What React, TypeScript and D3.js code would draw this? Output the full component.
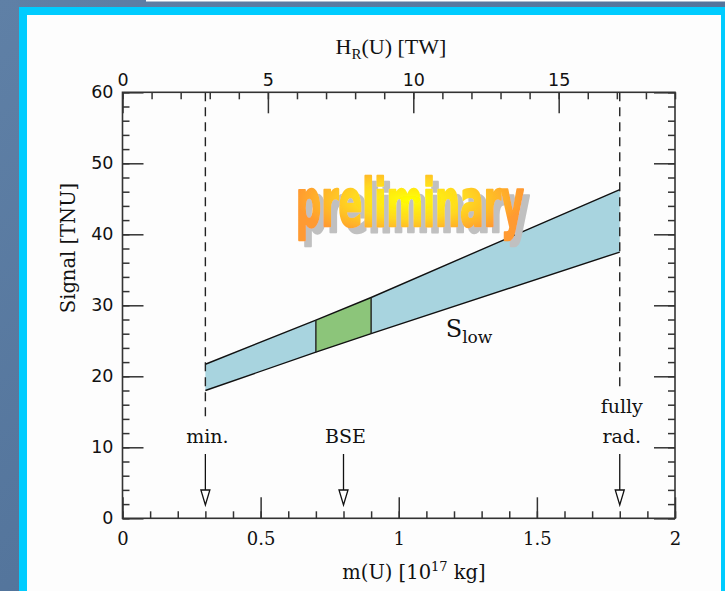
import React, { useEffect, useRef } from 'react';
import * as d3 from 'd3';

// axis ticks
const massTicks = [0, 0.5, 1, 1.5, 2];
const heatTicks = [0, 5, 10, 15];
const signalTicks = [0, 10, 20, 30, 40, 50, 60];

// allowed band of the signal vs uranium mass
const bandMass = [0.3, 0.7, 0.9, 1.8];
const bandUpper = [21.7, 27.9, 31.1, 46.3];
const bandLower = [18.0, 23.4, 26.0, 37.5];
const bseRange = [0.7, 0.9];

// reference models marked with arrows
const markerMass = [0.3, 0.8, 1.8];
const markerLabels = [['min.'], ['BSE'], ['fully', 'rad.']];
const dashedMass = [0.3, 1.8];

const W = 725;
const H = 591;
const m = { left: 122.5, right: 675, top: 92.3, bottom: 518.3 };

export default function App() {
  const ref = useRef<SVGSVGElement>(null);

  const x = d3.scaleLinear().domain([0, 2]).range([m.left, m.right]);
  const heat = d3.scaleLinear().domain([0, 19]).range([m.left, m.right]);
  const y = d3.scaleLinear().domain([0, 60]).range([m.bottom, m.top]);

  useEffect(() => {
    const g = d3.select(ref.current).select<SVGGElement>('g.axes');
    g.selectAll('*').remove();

    const style = (s: any) => {
      s.select('.domain').remove();
      s.selectAll('line').attr('stroke', '#333').attr('stroke-width', 1.5);
    };

    // bottom: mass
    g.append('g')
      .attr('transform', `translate(0,${m.bottom})`)
      .call(d3.axisBottom(x).tickValues(d3.range(0, 2.001, 0.1)).tickSize(-7).tickFormat(() => ''))
      .call(style);
    g.append('g')
      .attr('transform', `translate(0,${m.bottom})`)
      .call(d3.axisBottom(x).tickValues(massTicks).tickSize(-21).tickPadding(14).tickFormat((d: any) => String(d)))
      .attr('font-family', 'DejaVu Serif')
      .attr('font-size', 18)
      .call(style);

    // top: heat
    g.append('g')
      .attr('transform', `translate(0,${m.top})`)
      .call(d3.axisTop(heat).tickValues(d3.range(0, 19.01, 1)).tickSize(-7).tickFormat(() => ''))
      .call(style);
    g.append('g')
      .attr('transform', `translate(0,${m.top})`)
      .call(d3.axisTop(heat).tickValues(heatTicks).tickSize(-21).tickPadding(6).tickFormat((d: any) => String(d)))
      .attr('font-family', 'DejaVu Sans')
      .attr('font-size', 17.5)
      .call(style);

    // left: signal
    g.append('g')
      .attr('transform', `translate(${m.left},0)`)
      .call(d3.axisLeft(y).tickValues(d3.range(0, 60.01, 2)).tickSize(-7).tickFormat(() => ''))
      .call(style);
    g.append('g')
      .attr('transform', `translate(${m.left},0)`)
      .call(d3.axisLeft(y).tickValues(signalTicks).tickSize(-21).tickPadding(9).tickFormat((d: any) => String(d)))
      .attr('font-family', 'DejaVu Sans')
      .attr('font-size', 17.5)
      .call(style);

    // right
    g.append('g')
      .attr('transform', `translate(${m.right},0)`)
      .call(d3.axisRight(y).tickValues(d3.range(0, 60.01, 2)).tickSize(-7).tickFormat(() => ''))
      .call(style);
    g.append('g')
      .attr('transform', `translate(${m.right},0)`)
      .call(d3.axisRight(y).tickValues(signalTicks).tickSize(-21).tickFormat(() => ''))
      .call(style);

    g.selectAll('text').attr('fill', '#111');
  }, []);

  const pts = bandMass.map((mass, i) => ({ mass, up: bandUpper[i], lo: bandLower[i] }));
  const area = d3.area<any>().x((d) => x(d.mass)).y0((d) => y(d.lo)).y1((d) => y(d.up));
  const upperLine = d3.line<any>().x((d) => x(d.mass)).y((d) => y(d.up));
  const lowerLine = d3.line<any>().x((d) => x(d.mass)).y((d) => y(d.lo));
  const bse = pts.filter((d) => d.mass >= bseRange[0] && d.mass <= bseRange[1]);

  const arrowTop = 454;
  const arrowTip = 505;
  const labelBase = 443;

  return (
    <svg ref={ref} width={W} height={H} style={{ position: 'absolute', left: 0, top: 0 }}>
      <defs>
        <linearGradient id="bg" x1="0" y1="0" x2="1" y2="1">
          <stop offset="0" stopColor="#5f80a6" />
          <stop offset="0.5" stopColor="#54759c" />
          <stop offset="1" stopColor="#4b6a91" />
        </linearGradient>
        <radialGradient id="prelim" cx="0.5" cy="0.45" r="0.5">
          <stop offset="0" stopColor="#ffff00" />
          <stop offset="0.5" stopColor="#ffd820" />
          <stop offset="1" stopColor="#ff9a30" />
        </radialGradient>
        <filter id="shadow" x="-5%" y="-20%" width="115%" height="150%">
          <feOffset in="SourceAlpha" dx="6" dy="6" result="off" />
          <feFlood floodColor="#c0c0c0" />
          <feComposite in2="off" operator="in" result="sh" />
          <feMerge>
            <feMergeNode in="sh" />
            <feMergeNode in="SourceGraphic" />
          </feMerge>
        </filter>
      </defs>
      <rect x={0} y={0} width={W} height={H} fill="url(#bg)" />
      <rect x={146} y={0} width={W - 146} height={1.5} fill="#fff" />
      <rect x={19} y={7} width={W - 19} height={H - 7} fill="#00ccff" />
      <rect x={27} y={15} width={721 - 27} height={H - 15} fill="#fdfdfd" />

      {/* band */}
      <path d={area(pts) || ''} fill="#a8d4df" />
      <path d={area(bse) || ''} fill="#8cc57a" />
      <path d={upperLine(pts) || ''} fill="none" stroke="#111" strokeWidth={1.4} />
      <path d={lowerLine(pts) || ''} fill="none" stroke="#111" strokeWidth={1.4} />
      {bse.map((d, i) => (
        <line key={i} x1={x(d.mass)} x2={x(d.mass)} y1={y(d.up)} y2={y(d.lo)} stroke="#222" strokeWidth={1.4} />
      ))}

      {/* dashed limits */}
      {dashedMass.map((mass, i) => {
        const lines = markerLabels[markerMass.indexOf(mass)].length;
        const end = labelBase - 14 - (lines - 1) * 30 - 9;
        return (
          <line key={i} x1={x(mass)} x2={x(mass)} y1={m.top} y2={end} stroke="#222" strokeWidth={1.4} strokeDasharray="9,6" />
        );
      })}

      {/* markers */}
      {markerMass.map((mass, i) => {
        const cx = x(mass);
        const lbl = markerLabels[i];
        return (
          <g key={i}>
            {lbl.map((t, j) => (
              <text key={j} x={cx + 2} y={labelBase - (lbl.length - 1 - j) * 30} textAnchor="middle"
                fontFamily="DejaVu Serif" fontSize={19} fill="#111">{t}</text>
            ))}
            <line x1={cx} x2={cx} y1={arrowTop} y2={arrowTip - 15} stroke="#111" strokeWidth={1.3} />
            <path d={`M${cx - 4.5},${arrowTip - 15}L${cx + 4.5},${arrowTip - 15}L${cx},${arrowTip}Z`}
              fill="#fff" stroke="#111" strokeWidth={1.3} />
          </g>
        );
      })}

      {/* S_low */}
      <text x={x(1.17)} y={y(25.5)} fontFamily="DejaVu Serif" fontSize={24} fill="#111">
        S<tspan dy={6} fontSize={17}>low</tspan>
      </text>

      {/* preliminary */}
      <text x={296} y={226} fontFamily="'Liberation Sans Narrow', 'DejaVu Sans Condensed', sans-serif" fontWeight="bold"
        fontSize={66} textLength={228} lengthAdjust="spacingAndGlyphs" fill="url(#prelim)"
        stroke="url(#prelim)" strokeWidth={2.5} strokeLinejoin="round" filter="url(#shadow)">preliminary</text>

      <g className="axes" />
      <rect x={m.left} y={m.top} width={m.right - m.left} height={m.bottom - m.top} fill="none" stroke="#333" strokeWidth={1.6} />

      {/* axis titles */}
      <text x={391} y={54} textAnchor="middle" fontFamily="Liberation Serif" fontSize={22} fill="#111">
        H<tspan dy={5} fontSize={15}>R</tspan><tspan dy={-5}>(U)  [TW]</tspan>
      </text>
      <text transform={`translate(75,248) rotate(-90)`} textAnchor="middle" fontFamily="DejaVu Serif" fontSize={19.5} fill="#111">
        Signal [TNU]
      </text>
      <text x={414} y={579} textAnchor="middle" fontFamily="DejaVu Serif" fontSize={19.5} fill="#111">
        m(U)  [10<tspan dy={-8} fontSize={13}>17</tspan><tspan dy={8}> kg]</tspan>
      </text>
    </svg>
  );
}
